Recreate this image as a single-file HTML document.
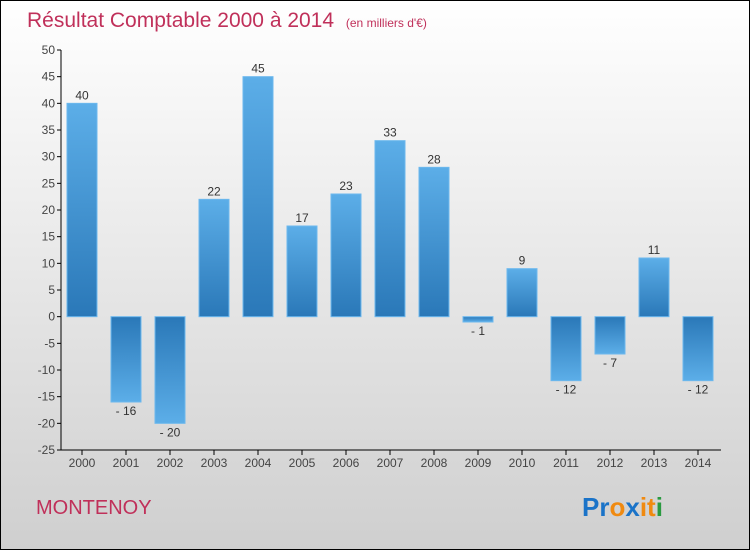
<!DOCTYPE html>
<html><head><meta charset="utf-8"><style>
body{margin:0}
#c{width:750px;height:550px;position:relative;overflow:hidden}
</style></head><body>
<div id="c">
<svg width="750" height="550" xmlns="http://www.w3.org/2000/svg" font-family="Liberation Sans, sans-serif">
<defs>
<linearGradient id="bg" x1="0" y1="0" x2="0" y2="1"><stop offset="0" stop-color="#ffffff"/><stop offset="1" stop-color="#cfcfcf"/></linearGradient>
<linearGradient id="gp" x1="0" y1="0" x2="0" y2="1"><stop offset="0" stop-color="#5caee8"/><stop offset="1" stop-color="#2a78b8"/></linearGradient>
<linearGradient id="gn" x1="0" y1="0" x2="0" y2="1"><stop offset="0" stop-color="#2a78b8"/><stop offset="1" stop-color="#5caee8"/></linearGradient>
</defs>
<rect x="0.5" y="0.5" width="749" height="549" fill="url(#bg)" stroke="#000"/>
<text x="27" y="27" font-size="21" fill="#c0305a">Résultat Comptable 2000 à 2014 <tspan font-size="12" dx="6">(en milliers d'€)</tspan></text>
<text x="36" y="514" font-size="20" fill="#c0305a">MONTENOY</text>
<g font-size="26" font-weight="bold">
<text x="582" y="516"><tspan fill="#1a73c8">Pr</tspan><tspan fill="#f08a10">o</tspan><tspan fill="#1a73c8">x</tspan><tspan fill="#f08a10">it</tspan><tspan fill="#2a9a40">i</tspan></text>
</g>
<g id="plot"></g>
</svg>
</div>
<script>
const categories=["2000","2001","2002","2003","2004","2005","2006","2007","2008","2009","2010","2011","2012","2013","2014"];
const values=[40,-16,-20,22,45,17,23,33,28,-1,9,-12,-7,11,-12];
const yTicks=[50,45,40,35,30,25,20,15,10,5,0,-5,-10,-15,-20,-25];
const NS="http://www.w3.org/2000/svg";
const g=document.getElementById('plot');
const y=v=>50+(50-v)*400/75;
const x=i=>82+i*44;
function el(t,a,txt){const e=document.createElementNS(NS,t);for(const k in a)e.setAttribute(k,a[k]);if(txt!==undefined)e.textContent=txt;g.appendChild(e);return e;}
let e=el('line',{x1:61,y1:50,x2:61,y2:450,stroke:'#000'});


e=el('line',{x1:61,y1:450,x2:721,y2:450,stroke:'#000'});


yTicks.forEach(v=>{
 let t=el('line',{x1:57,y1:y(v),x2:61,y2:y(v),stroke:'#000'});
 
 
 let l=el('text',{x:55,y:y(v)+4,'font-size':12,fill:'#444','text-anchor':'end'},String(v));
 
 
});
categories.forEach((c,i)=>{
 const v=values[i];
 let t=el('line',{x1:x(i),y1:450,x2:x(i),y2:455,stroke:'#000'});
 
 
 let l=el('text',{x:x(i),y:467,'font-size':12,fill:'#444','text-anchor':'middle'},c);
 
 
 const top=Math.min(y(v),y(0)),h=Math.abs(y(v)-y(0));
 let b=el('rect',{x:x(i)-15,y:top,width:30,height:h,fill:v>=0?'url(#gp)':'url(#gn)',stroke:'#6cb8ee','stroke-width':1});
 
 
 let vl=el('text',{x:x(i),y:v>=0?y(v)-4:y(v)+13,'font-size':12,fill:'#333','text-anchor':'middle'},String(v).replace('-','- '));
 
 
});
</script>
</body></html>
